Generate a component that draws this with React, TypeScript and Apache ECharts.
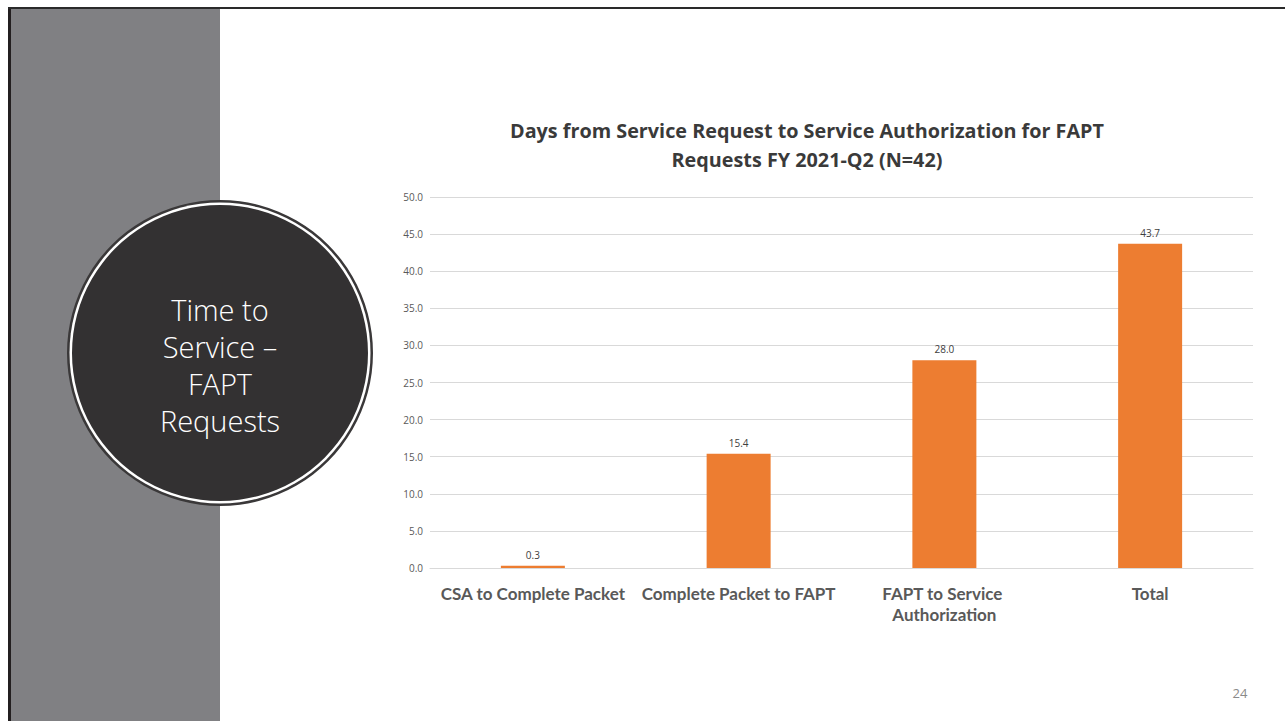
import React, { useEffect, useRef } from "react";
import * as echarts from "echarts";

const categories = [
  "CSA to Complete Packet",
  "Complete Packet to FAPT",
  "FAPT to Service Authorization",
  "Total",
];
const values = [0.3, 15.4, 28.0, 43.7];
const yTicks = { min: 0, max: 50, interval: 5 };
const chartTitle =
  "Days from Service Request to Service Authorization for FAPT\nRequests FY 2021-Q2 (N=42)";
const sideTitleLines = ["Time to", "Service –", "FAPT", "Requests"];
const pageNumber = "24";

export default function App() {
  const ref = useRef<HTMLDivElement>(null);
  useEffect(() => {
    if (!ref.current) return;
    const chart = echarts.init(ref.current, null, { renderer: "svg" });
    const cx = 220;
    const cy = 353;
    chart.setOption({
      animation: false,
      backgroundColor: "#ffffff",
      title: {
        text: chartTitle,
        left: 802,
        top: 111,
        textAlign: "center",
        textStyle: {
          fontFamily: "Open Sans",
          fontWeight: "bold",
          fontSize: 19.8,
          lineHeight: 29,
          color: "#3a3a3a",
        },
      },
      grid: { left: 430, right: 32, top: 197, bottom: 153, containLabel: false },
      xAxis: {
        type: "category",
        data: categories,
        axisLine: { show: true, lineStyle: { color: "#d9d9d9", width: 1 } },
        axisTick: { show: false },
        axisLabel: {
          interval: 0,
          margin: 15,
          width: 200,
          overflow: "break",
          fontFamily: "Lato",
          fontWeight: "bold",
          fontSize: 17,
          lineHeight: 21,
          color: "#595959",
        },
      },
      yAxis: {
        type: "value",
        min: yTicks.min,
        max: yTicks.max,
        interval: yTicks.interval,
        axisLine: { show: false },
        axisTick: { show: false },
        splitLine: { lineStyle: { color: "#d9d9d9", width: 1 } },
        axisLabel: {
          margin: 7,
          fontFamily: "Open Sans",
          fontSize: 10,
          color: "#595959",
          formatter: (v: number) => v.toFixed(1),
        },
      },
      series: [
        {
          type: "bar",
          data: values,
          barWidth: 64,
          itemStyle: { color: "#ED7D31" },
          label: {
            show: true,
            position: "top",
            distance: 6,
            fontFamily: "Open Sans",
            fontSize: 10,
            color: "#404040",
            formatter: (p: any) => Number(p.value).toFixed(1),
          },
        },
      ],
      graphic: [
        { type: "rect", shape: { x: 11, y: 9, width: 209, height: 712 }, style: { fill: "#808083" }, z: -10 },
        { type: "rect", shape: { x: 8, y: 7, width: 3, height: 714 }, style: { fill: "#231f20" }, z: -9 },
        { type: "rect", shape: { x: 8, y: 7, width: 1277, height: 2 }, style: { fill: "#2a2a2a" }, z: -9 },
        { type: "circle", shape: { cx, cy, r: 153 }, style: { fill: "#3a3839" }, z: -8 },
        { type: "circle", shape: { cx, cy, r: 150.5 }, style: { fill: "#ffffff" }, z: -7 },
        { type: "circle", shape: { cx, cy, r: 148 }, style: { fill: "#333132" }, z: -6 },
        ...sideTitleLines.map((t, i) => ({
          type: "text",
          x: cx,
          y: 309 + i * 37,
          z: -5,
          style: {
            text: t,
            fill: "#ffffff",
            fontFamily: "Open Sans",
            fontWeight: 300,
            fontSize: 29,
            textAlign: "center",
            textVerticalAlign: "middle",
          },
        })),
        {
          type: "text",
          x: 1240,
          y: 693,
          style: {
            text: pageNumber,
            fill: "#8a8a8a",
            fontFamily: "Open Sans",
            fontSize: 13,
            textAlign: "center",
            textVerticalAlign: "middle",
          },
        },
      ],
    });
    return () => chart.dispose();
  }, []);
  return (
    <div
      ref={ref}
      style={{ position: "fixed", left: 0, top: 0, width: 1285, height: 721 }}
    />
  );
}
